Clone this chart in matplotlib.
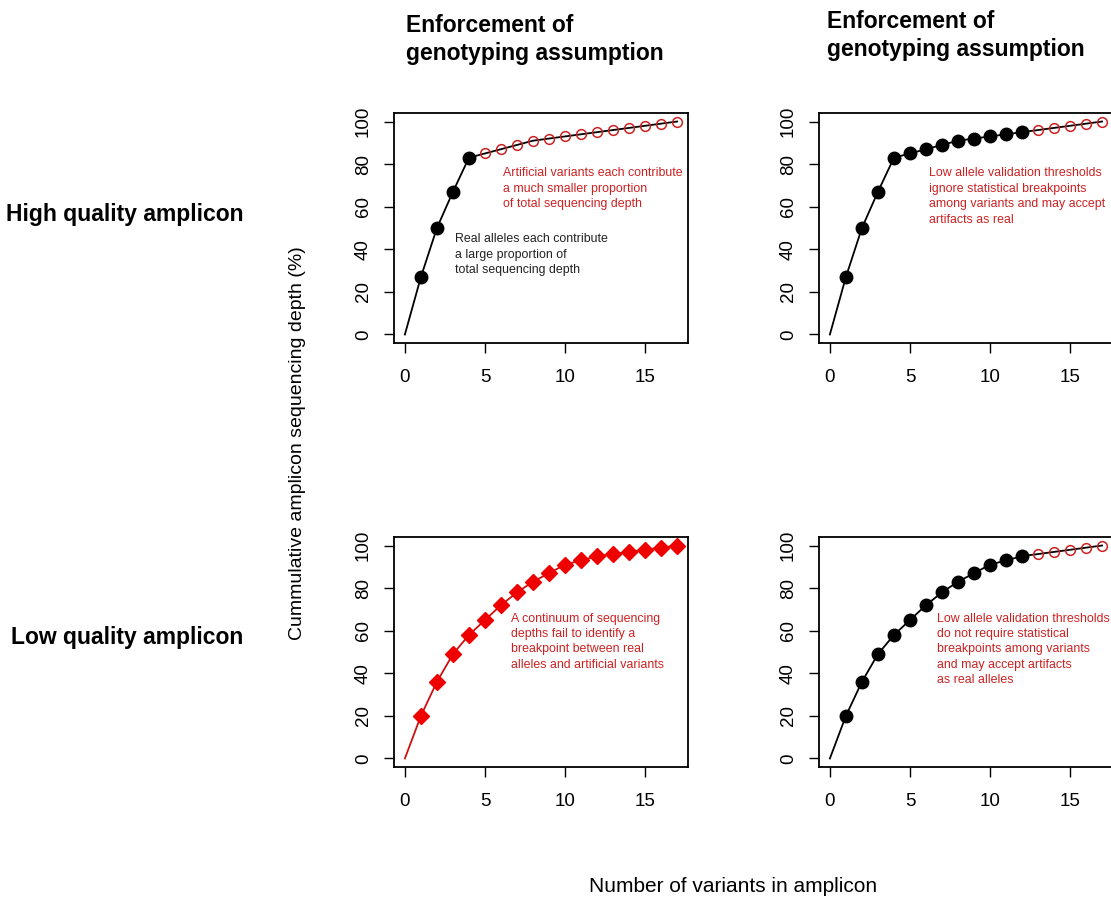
import numpy as np
import matplotlib
matplotlib.use("Agg")
import matplotlib.pyplot as plt

plt.rcParams['font.family'] = ['Liberation Sans', 'DejaVu Sans']

# data
variants = list(range(18))
high_depth = [0, 27, 50, 67, 83, 85, 87, 89, 91, 92, 93, 94, 95, 96, 97, 98, 99, 100]
low_depth = [0, 20, 36, 49, 58, 65, 72, 78, 83, 87, 91, 93, 95, 96, 97, 98, 99, 100]

col_titles = ["Enforcement of\ngenotyping assumption", "Enforcement of\ngenotyping assumption"]
row_labels = ["High quality amplicon", "Low quality amplicon"]
x_ticks = [0, 5, 10, 15]
y_ticks = [0, 20, 40, 60, 80, 100]

notes = {
    (0, 0): "Artificial variants each contribute\na much smaller proportion\nof total sequencing depth",
    (0, 1): "Low allele validation thresholds\nignore statistical breakpoints\namong variants and may accept\nartifacts as real",
    (1, 0): "A continuum of sequencing\ndepths fail to identify a\nbreakpoint between real\nalleles and artificial variants",
    (1, 1): "Low allele validation thresholds\ndo not require statistical\nbreakpoints among variants\nand may accept artifacts\nas real alleles",
}
note_pos = {(0, 0): (6.1, 78.5), (0, 1): (6.2, 78.5), (1, 0): (6.6, 68.5), (1, 1): (6.7, 68.5)}
black_note = "Real alleles each contribute\na large proportion of\ntotal sequencing depth"

RED = "#cc2222"

fig = plt.figure(figsize=(11.11, 8.97), dpi=100)

lefts = [394 / 1111, 819 / 1111]
bottoms = [1 - 343 / 897, 1 - 767 / 897]
w, h = 294 / 1111, 230 / 897


def style_axes(ax):
    ax.set_xlim(-0.68, 17.68)
    ax.set_ylim(-4, 104)
    ax.set_xticks(x_ticks)
    ax.set_yticks(y_ticks)
    ax.tick_params(labelsize=13.5, length=7, width=1)
    ax.tick_params(axis='x', pad=12)
    ax.tick_params(axis='y', pad=9)
    for lab in ax.get_yticklabels():
        lab.set_rotation(90)
        lab.set_va('center')
    for s in ax.spines.values():
        s.set_linewidth(1.3)


for r in range(2):
    for c in range(2):
        ax = fig.add_axes([lefts[c], bottoms[r], w, h])
        y = high_depth if r == 0 else low_depth
        if (r, c) == (1, 0):
            ax.plot(variants, y, color="#cc1111", lw=1.3)
            ax.plot(variants[1:], y[1:], ls='none', marker='D', ms=8,
                    color="#ee0000", mec="#ee0000")
        else:
            split = 5 if (r, c) == (0, 0) else 13
            ax.plot(variants, y, color="black", lw=1.3, zorder=2)
            ax.plot(variants[1:split], y[1:split], ls='none', marker='o', ms=9,
                    color="black", zorder=3)
            ax.plot(variants[split:], y[split:], ls='none', marker='o', ms=7,
                    mfc='none', mec=RED, mew=1.1, zorder=3)
        tx, ty = note_pos[(r, c)]
        ax.text(tx, ty, notes[(r, c)], color=RED, fontsize=8.9, va='top',
                ha='left', linespacing=1.38)
        if (r, c) == (0, 0):
            ax.text(3.1, 47.5, black_note, color="#222222", fontsize=8.9,
                    va='top', ha='left', linespacing=1.38)
        style_axes(ax)

fig.text(406 / 1111, 1 - 14 / 897, col_titles[0], fontsize=16.5, fontweight='bold',
         va='top', ha='left', linespacing=1.3)
fig.text(827 / 1111, 1 - 10 / 897, col_titles[1], fontsize=16.5, fontweight='bold',
         va='top', ha='left', linespacing=1.3)

fig.text(243 / 1111, 1 - 215 / 897, row_labels[0], fontsize=16.5, fontweight='bold',
         va='center', ha='right')
fig.text(243 / 1111, 1 - 637 / 897, row_labels[1], fontsize=16.5, fontweight='bold',
         va='center', ha='right')

fig.text(297 / 1111, 1 - 443 / 897, "Cummulative amplicon sequencing depth (%)",
         fontsize=14, rotation=90, va='center', ha='center')
fig.text(733 / 1111, 1 - 886 / 897, "Number of variants in amplicon",
         fontsize=15, va='center', ha='center')

fig.savefig("out.png", dpi=100)
